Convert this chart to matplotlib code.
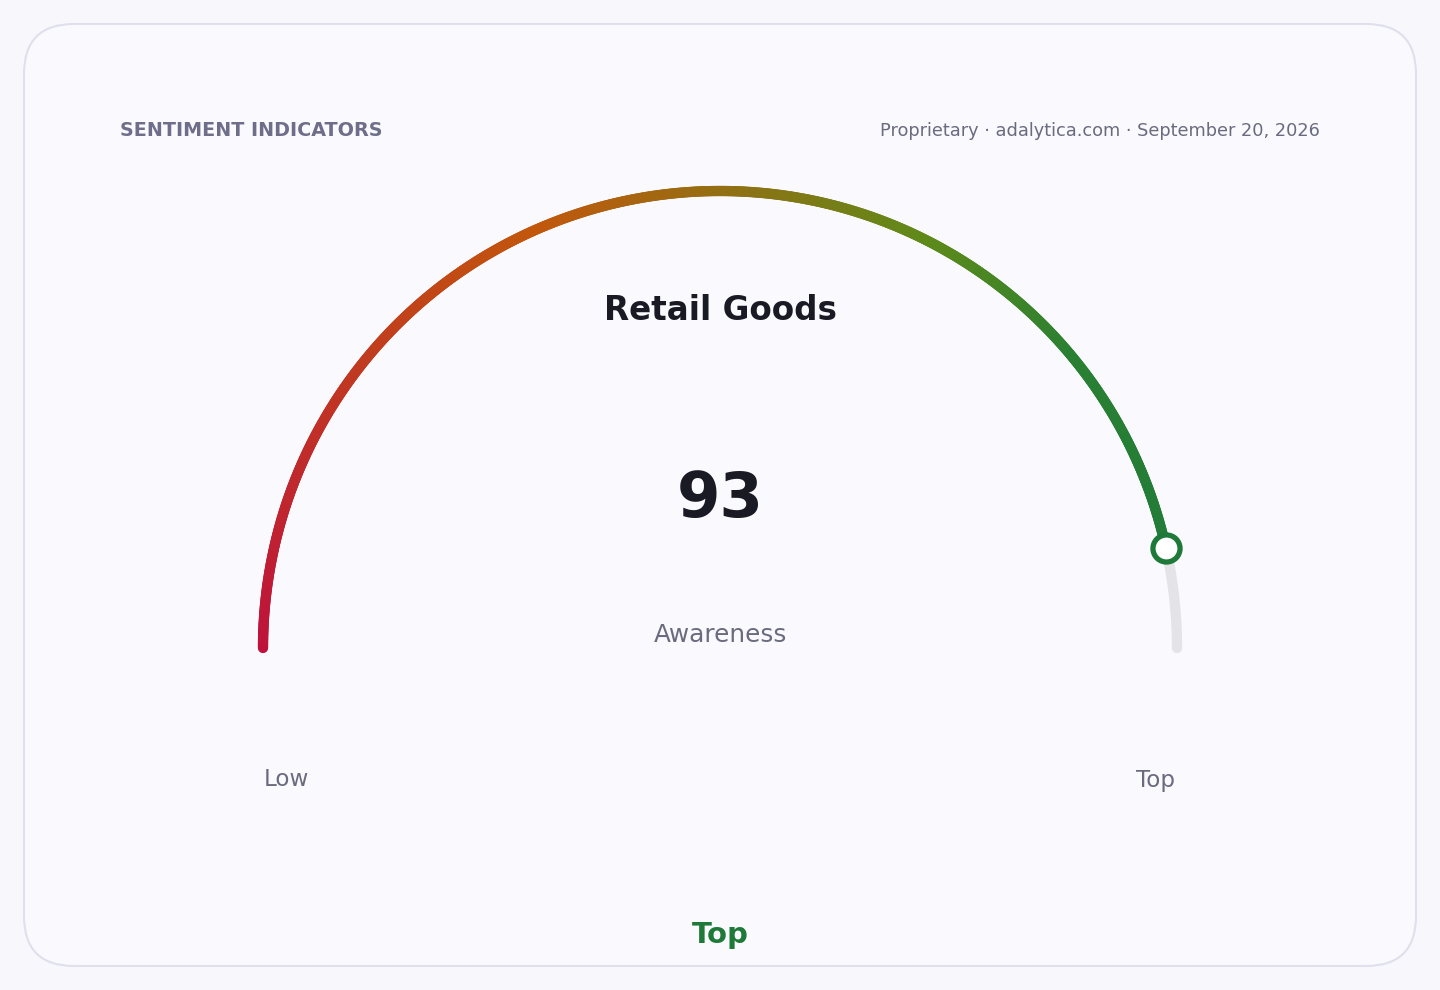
import numpy as np
import matplotlib
matplotlib.use("Agg")
import matplotlib.pyplot as plt
from matplotlib.collections import LineCollection
from matplotlib.colors import LinearSegmentedColormap
from matplotlib.patches import FancyBboxPatch

# ---- data ----
title = "Retail Goods"
metric = "Awareness"
value = 93
scale_min, scale_max = 0, 100
end_labels = ["Low", "Top"]
band_label = "Top"
header_left = "SENTIMENT INDICATORS"
header_right = "Proprietary · adalytica.com · September 20, 2026"
gradient_stops = [0.0, 0.37, 0.65, 0.78, 1.0]
gradient_colors = ["#be123c", "#c2570c", "#5f8a1a", "#2a8032", "#1f7a3a"]

W, H = 1440, 990
fig = plt.figure(figsize=(W / 100, H / 100), dpi=100)
fig.patch.set_facecolor("#f7f7fc")
ax = fig.add_axes([0, 0, 1, 1])
ax.set_xlim(0, W)
ax.set_ylim(H, 0)
ax.set_aspect("equal")
ax.axis("off")

card = FancyBboxPatch((24, 24), 1392, 942, boxstyle="round,pad=0,rounding_size=50",
                      facecolor="#f9f9fe", edgecolor="#e0e0ec", linewidth=1.5)
ax.add_patch(card)

cx, cy, R = 720, 648, 457
lw = 7.4

def ang(v):
    return np.pi * (1 - (v - scale_min) / (scale_max - scale_min))

# track
t = np.linspace(0, np.pi, 400)
ax.plot(cx + R * np.cos(t), cy - R * np.sin(t), color="#e4e4e8", lw=lw,
        solid_capstyle="round", zorder=2)

# gradient arc
cmap = LinearSegmentedColormap.from_list("g", list(zip(gradient_stops, gradient_colors)))
vals = np.linspace(scale_min, value, 600)
ta = ang(vals)
xs = cx + R * np.cos(ta)
ys = cy - R * np.sin(ta)
pts = np.column_stack([xs, ys]).reshape(-1, 1, 2)
segs = np.concatenate([pts[:-1], pts[1:]], axis=1)
frac = ((vals[:-1] + vals[1:]) / 2 - scale_min) / (scale_max - scale_min)
lc = LineCollection(segs, colors=cmap(frac), linewidths=lw, capstyle="round", zorder=3)
ax.add_collection(lc)

# marker
mx, my = cx + R * np.cos(ang(value)), cy - R * np.sin(ang(value))
ax.plot(mx, my, "o", ms=19.5, mfc="white", mec="#1f7a3a", mew=3.8, zorder=5)

# texts
ax.text(120, 131, header_left, fontsize=13.8, fontweight="bold", color="#6e6e8a",
        ha="left", va="center")
ax.text(1320, 131, header_right, fontsize=12.8, color="#6b6b80", ha="right", va="center")
ax.text(720, 311, title, fontsize=23.5, fontweight="bold", color="#1a1a24", ha="center", va="center")
ax.text(720, 500, str(value), fontsize=45, fontweight="bold", color="#1a1a24", ha="center", va="center")
ax.text(720, 635, metric, fontsize=17.8, color="#6b6b80", ha="center", va="center")
ax.text(286, 780, end_labels[0], fontsize=16.6, color="#6b6b80", ha="center", va="center")
ax.text(1156, 780, end_labels[1], fontsize=16.6, color="#6b6b80", ha="center", va="center")
ax.text(720, 935, band_label, fontsize=21, fontweight="bold", color="#1f7a3a", ha="center", va="center")

fig.savefig("out.png", dpi=100, facecolor=fig.get_facecolor())
